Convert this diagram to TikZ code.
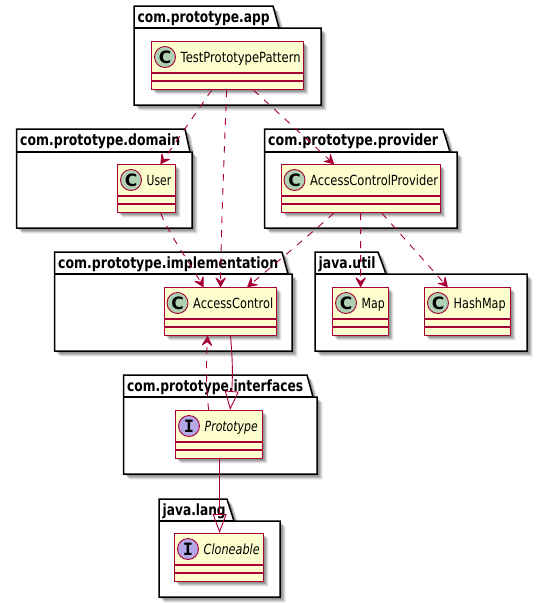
\documentclass[tikz,border=0pt]{standalone}
\usepackage{fontspec}
\usepackage{graphicx}
\setmainfont{DejaVu Sans}
\newfontfamily\ifont{DejaVu Sans Mono}
\usetikzlibrary{arrows.meta,calc,bending}
\definecolor{umlred}{HTML}{A80036}
\definecolor{umlfill}{HTML}{FEFECE}
\definecolor{spotC}{HTML}{ADD1B2}
\definecolor{spotI}{HTML}{B4A7E5}
\tikzset{
  pkgline/.style={draw=black,line width=1.5pt,fill=white,line join=miter},
  pkglabel/.style={anchor=base west,inner sep=0pt,font=\bfseries\fontsize{15.5}{17}\selectfont},
  clsbox/.style={draw=umlred,line width=1.2pt,fill=umlfill,inner sep=0pt,rectangle},
  clsname/.style={anchor=base west,inner sep=0pt,font=\fontsize{14}{16}\selectfont},
  spot/.style={circle,draw=umlred,line width=0.9pt,minimum size=21pt,inner sep=0pt},
  dep/.style={draw=umlred,line width=0.9pt,dash pattern=on 7pt off 7pt,-{Stealth[length=11pt,width=12pt,inset=4.5pt,sep=0pt,round=false]}},
  real/.style={draw=umlred,line width=0.9pt,-{Triangle[open,length=19pt,width=14pt]}},
}
\newcommand{\fitw}[2]{\resizebox{#1pt}{\height}{#2}}
% #1 body width, #2 x1, #3 top, #4 tab top right, #5 tab end, #6 tab bottom, #7 bottom, #8 label, #9 label width
\newcommand{\pkg}[9]{%
  \foreach \d/\o in {2/0.10,3/0.14,4/0.14,5/0.09,6/0.04}{
    \fill[black,opacity=\o,xshift=\d pt,yshift=-\d pt]
      (#2,#3)--(#4,#3)--(#5,#6)--(#2+#1,#6)--(#2+#1,#7)--(#2,#7)--cycle;}
  \path[pkgline] (#2,#3)--(#4,#3)--(#5,#6)--(#2+#1,#6)--(#2+#1,#7)--(#2,#7)--cycle;
  \draw[black,line width=1.5pt] (#2,#6)--(#5,#6);
  \node[pkglabel] at (#2+3.5,#3+16) {\fitw{#9}{#8}};
}
% #1 name #2 x1 #3 y1 #4 x2 #5 y2 #6 kind(C/I) #7 text #8 text width
\newcommand{\cls}[8]{%
  \foreach \d/\o in {2/0.10,3/0.14,4/0.14,5/0.09,6/0.04}{
    \fill[black,opacity=\o,xshift=\d pt,yshift=-\d pt] (#2,#3) rectangle (#4,#5);}
  \node[clsbox,minimum width=#4pt-#2pt,minimum height=#5pt-#3pt,anchor=north west] (#1) at (#2,#3) {};
  \draw[umlred,line width=1.1pt] (#2,#3+32)--(#4,#3+32) (#2,#3+40)--(#4,#3+40);
  \node[spot,fill=spot#6] (#1spot) at (#2+14,#3+16) {\ifx#6C\fontsize{17}{17}\selectfont\bfseries C\else\fontsize{17}{17}\selectfont\ifont\bfseries I\fi};
  \node[clsname] (#1text) at (#2+29.5,#3+21) {\fitw{#8}{#7}};
}
\begin{document}
\begin{tikzpicture}[x=1pt,y=-1pt]
\useasboundingbox (0,0) rectangle (542,603);
\pkg{187}{134}{6}{273}{279}{28}{105}{com.prototype.app}{132}
\pkg{175.5}{16.5}{129}{185}{190}{152}{228}{com.prototype.domain}{160}
\pkg{192.5}{264.5}{129}{443}{450}{152}{228}{com.prototype.provider}{170}
\pkg{237.5}{54.5}{252}{282}{288}{274}{351}{com.prototype.implementation}{220}
\pkg{212}{315}{252}{378}{386}{274}{351}{java.util}{57}
\pkg{193.5}{123.5}{375}{307}{313}{397}{474}{com.prototype.interfaces}{176}
\pkg{121}{159}{499}{227}{234}{521}{597}{java.lang}{63}
\cls{tpp}{151}{41}{303}{89}{C}{TestPrototypePattern}{120}
\cls{user}{117}{164}{175}{212}{C}{User}{24.5}
\cls{acp}{280.5}{164}{440}{212}{C}{AccessControlProvider}{128}
\cls{ac}{163.5}{287}{276}{335}{C}{AccessControl}{80}
\cls{map}{332}{287}{388}{335}{C}{Map}{23}
\cls{hm}{424}{287}{510}{335}{C}{HashMap}{52}
\cls{proto}{175}{410}{262}{458}{I}{\itshape Prototype}{53}
\cls{clone}{174}{533}{263}{581}{I}{\itshape Cloneable}{56}
\draw[dep] ([xshift=-16pt]tpp.south) -- ([xshift=14pt]user.north);
\draw[dep] ([xshift=-1pt]tpp.south) .. controls (224,160) and (221,230) .. ([xshift=0.2pt]ac.north);
\draw[dep] ([xshift=26pt]tpp.south) -- ([xshift=-27pt]acp.north);
\draw[dep] ([xshift=14pt]user.south) .. controls (172,240) and (190,262) .. ([xshift=-17pt]ac.north);
\draw[dep] ([xshift=-27pt]acp.south) .. controls (300,243) and (270,268) .. ([xshift=27pt]ac.north);
\draw[dep] ([xshift=-0.2pt]acp.south) -- ([xshift=0pt]map.north);
\draw[dep] ([xshift=21pt]acp.south) -- ([xshift=-20pt]hm.north);
\draw[dep] ([xshift=-10.5pt]proto.north) .. controls (206,385) and (206,360) .. ([xshift=-12.8pt]ac.south);
\draw[real] ([xshift=10.2pt]ac.south) .. controls (232,355) and (234,375) .. ([xshift=11pt]proto.north);
\draw[real] ([xshift=0.5pt]proto.south) -- ([xshift=0.5pt]clone.north);
\end{tikzpicture}
\end{document}
